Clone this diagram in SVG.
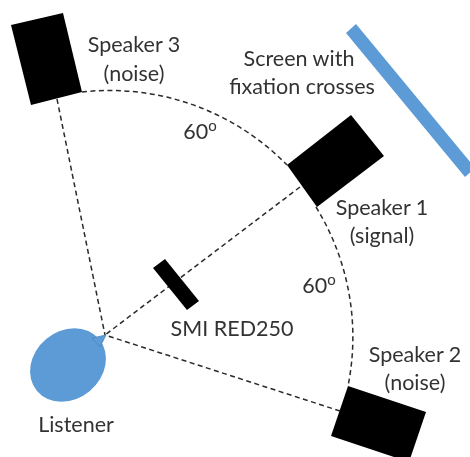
<svg xmlns="http://www.w3.org/2000/svg" width="470" height="457" viewBox="0 0 470 457">
<defs><filter id="soft" x="0" y="0" width="100%" height="100%" filterUnits="userSpaceOnUse"><feGaussianBlur stdDeviation="0.45"/></filter></defs>
<style>
.box{fill:#000}
.blue{fill:#5b9bd5}
.dash{fill:none;stroke:#2a2a2a;stroke-width:1.5;stroke-dasharray:5 3.5}
text{font-family:"Lato","Liberation Sans",sans-serif;font-size:21.5px;fill:#333;text-anchor:middle}
</style>
<rect width="470" height="457" fill="#fff"/>
<g filter="url(#soft)">
<g id="connectors">
<path class="dash" d="M82 92A248 248 0 0 1 287 165"/>
<path class="dash" d="M316 207A248 248 0 0 1 348 386"/>
<path class="dash" d="M57 99L105 335"/>
<path class="dash" d="M300 187L105 335"/>
<path class="dash" d="M340 411L105 335"/>
</g>
<g id="speaker3"><polygon class="box" points="11,25 63,13 82,92 31,105"/><text x="134" y="52">Speaker 3</text><text x="134" y="81">(noise)</text></g>
<g id="speaker1"><polygon class="box" points="351,115 384,156 317,207 287,165"/><text x="382" y="215">Speaker 1</text><text x="382" y="243">(signal)</text></g>
<g id="speaker2"><polygon class="box" points="348,386 426,412 409,462 331,436"/><text x="415" y="362">Speaker 2</text><text x="415" y="390">(noise)</text></g>
<g id="screen"><polygon class="blue" points="356,24 346,33 465,177 475,168"/><text x="299" y="66">Screen with</text><text x="302" y="94">fixation crosses</text></g>
<g id="tracker"><polygon class="box" points="165,259 153,268 187,310 199,301"/><text x="232" y="336">SMI RED250</text></g>
<g id="listener"><ellipse class="blue" cx="68" cy="365" rx="40.5" ry="34" transform="rotate(-40 68 365)"/><polygon class="blue" stroke="#4a86bd" stroke-width="0.8" points="106,335 92,338 100,347"/><text x="76" y="432">Listener</text></g>
<g id="angle-upper"><text x="200" y="139">60<tspan font-size="15" dy="-8">o</tspan></text></g>
<g id="angle-lower"><text x="319" y="293">60<tspan font-size="15" dy="-8">o</tspan></text></g>
</g>
</svg>
